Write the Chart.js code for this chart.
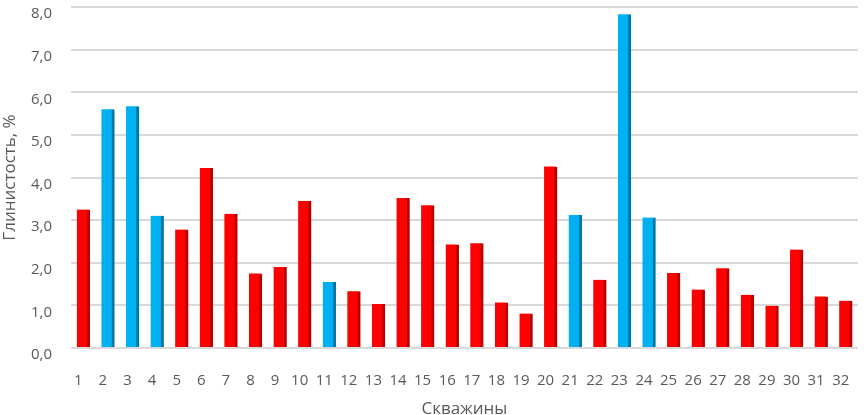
<!DOCTYPE html>
<html>
<head>
<meta charset="utf-8">
<script src="https://cdn.jsdelivr.net/npm/chart.js@4"></script>
<style>
  html, body { margin: 0; padding: 0; background: #ffffff; }
  #wrap { width: 868px; height: 415px; position: relative; }
</style>
</head>
<body>
<div id="wrap"><canvas id="c" width="868" height="415"></canvas></div>
<script>
// ---- data ----
const wells = ['1','2','3','4','5','6','7','8','9','10','11','12','13','14','15','16',
               '17','18','19','20','21','22','23','24','25','26','27','28','29','30','31','32'];
const clayContent = [3.25, 5.6, 5.67, 3.1, 2.78, 4.22, 3.15, 1.75, 1.9, 3.45, 1.55, 1.33, 1.03, 3.52, 3.35, 2.43,
                     2.46, 1.07, 0.81, 4.26, 3.12, 1.6, 7.83, 3.06, 1.76, 1.37, 1.87, 1.25, 0.99, 2.31, 1.21, 1.11];
const groupBWells = ['2','3','4','11','21','23','24'];
const yTicks = [0, 1, 2, 3, 4, 5, 6, 7, 8];

// ---- styling ----
const RED = '#FF0000', RED_SIDE = '#B80000';
const BLUE = '#00B0F0', BLUE_SIDE = '#0075A8';
const isB = wells.map(w => groupBWells.includes(w));
const fontFam = "'Open Sans', 'Liberation Sans', sans-serif";
const textColor = '#595959';

new Chart(document.getElementById('c'), {
  type: 'bar',
  data: {
    labels: wells,
    datasets: [{
      data: clayContent,
      backgroundColor: isB.map(b => b ? BLUE : RED),
      borderColor: isB.map(b => b ? BLUE_SIDE : RED_SIDE),
      borderWidth: { top: 0, left: 0, bottom: 0, right: 3 },
      borderSkipped: false,
      barThickness: 13
    }]
  },
  options: {
    responsive: false,
    animation: false,
    devicePixelRatio: 1,
    layout: { padding: { top: 7, right: 10, bottom: 0, left: 0 } },
    plugins: { legend: { display: false }, tooltip: { enabled: false } },
    scales: {
      x: {
        grid: { display: false, drawTicks: false },
        border: { display: false },
        ticks: {
          color: textColor, font: { family: fontFam, size: 15 },
          padding: 24, labelOffset: -5, maxRotation: 0, autoSkip: false
        },
        title: {
          display: true, text: 'Скважины', color: textColor,
          font: { family: fontFam, size: 17 }, padding: { top: 0, bottom: -4 }
        },
        afterFit: s => { s.height = 67; s.paddingLeft = 0; s.paddingRight = 0; }
      },
      y: {
        min: 0, max: 8,
        afterBuildTicks: s => { s.ticks = yTicks.map(v => ({ value: v })); },
        grid: { color: '#D9D9D9', lineWidth: 2, drawTicks: false },
        border: { display: false },
        ticks: {
          color: textColor, font: { family: fontFam, size: 15 }, padding: 19, labelOffset: 7,
          callback: v => Number(v).toFixed(1).replace('.', ',')
        },
        title: {
          display: true, text: 'Глинистость, %', color: textColor,
          font: { family: fontFam, size: 17 }, padding: { top: 0, bottom: 0 }
        },
        afterFit: s => { s.width = 71; s.paddingTop = 0; s.paddingBottom = 0; }
      }
    }
  }
});
</script>
</body>
</html>
